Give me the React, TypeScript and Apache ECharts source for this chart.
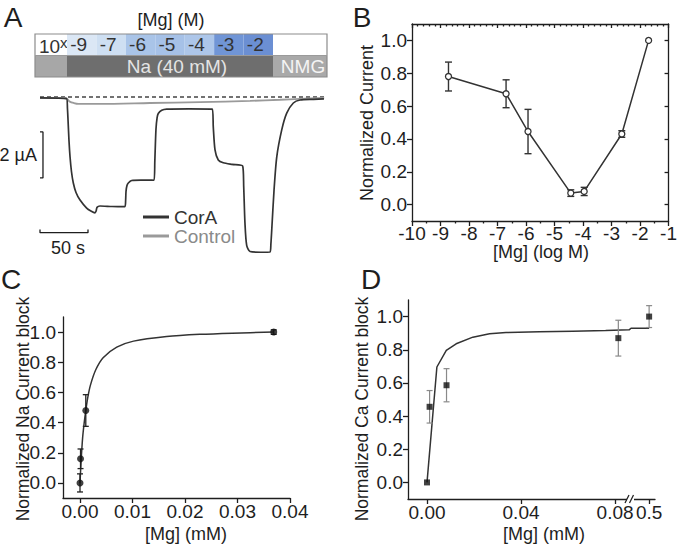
import React, { useEffect, useRef } from 'react';
import * as echarts from 'echarts';

const FONT = '"Liberation Sans", Arial, Helvetica, sans-serif';
const INK = '#1e1e1e';

// ---------- Panel A: solution bar ----------
const MG_EXPONENTS = ['-9', '-7', '-6', '-5', '-4', '-3', '-2'];
const MG_COLORS = ['#dbe7f5', '#cedff2', '#a9c4e8', '#a6c1e7', '#adc6e9', '#7095d6', '#6b8fd3'];
const SOLUTIONS = ['', 'Na (40 mM)', 'NMG'];
const SOLUTION_COLORS = ['#a7a7a7', '#6e6e6e', '#a9a9a9'];

// ---------- Panel A: current traces (time s, current µA) ----------
const CORA_T = [0, 27.8, 28.6, 29.2, 30.2, 31.3, 32.8, 34.7, 37.5, 41.7, 48.6, 53, 57.3, 58.5, 59.4, 62.5, 75, 88.5, 89.2, 89.6, 90.6, 92, 95.5, 105, 118.8, 119.6, 120.8, 122, 123.2, 126.8, 132, 155, 179.5, 180.5, 182.3, 185.7, 190.9, 200, 211.1, 212.2, 213.5, 215.3, 218.8, 230, 239.6, 240.5, 241.4, 243.8, 246.6, 251.8, 257, 263.9, 270.8, 285, 295.8];
const CORA_I = [-0.04, -0.08, -0.5, -1.0, -1.9, -2.61, -3.25, -3.74, -4.15, -4.48, -4.83, -4.96, -5.04, -4.95, -4.8, -4.74, -4.76, -4.77, -4.5, -4.1, -3.85, -3.74, -3.63, -3.61, -3.62, -2.8, -1.4, -0.9, -0.72, -0.58, -0.53, -0.52, -0.53, -1.3, -2.3, -2.74, -2.86, -2.93, -3.0, -3.9, -5.48, -6.45, -6.72, -6.75, -6.74, -6.4, -5.78, -4.04, -2.61, -1.43, -0.7, -0.26, -0.13, -0.1, -0.08];
const CTRL_T = [0, 27, 29, 31, 35, 40, 62.5, 114.6, 166.7, 218.8, 250, 270.8, 296];
const CTRL_I = [-0.04, -0.04, -0.12, -0.2, -0.26, -0.3, -0.3, -0.26, -0.22, -0.17, -0.12, -0.08, -0.04];
const BASELINE_T = [0, 296];
const SCALE_CURRENT = 2; // µA
const SCALE_TIME = 50; // s

// ---------- Panel B ----------
const B_LOGMG = [-8.72, -6.7, -5.93, -4.43, -3.96, -2.64, -1.7];
const B_CURRENT = [0.78, 0.675, 0.445, 0.07, 0.08, 0.43, 1.0];
const B_ERR = [0.088, 0.085, 0.135, 0.02, 0.025, 0.02, 0];
const Y_TICKS = [0, 0.2, 0.4, 0.6, 0.8, 1.0];

// ---------- Panel C ----------
const C_MG = [0, 0.0001, 0.0011, 0.0369];
const C_BLOCK = [0, 0.16, 0.48, 1.0];
const C_ERR = [0.06, 0.065, 0.105, 0.015];
const C_FIT_X = [0, 0.0002, 0.0005, 0.0008, 0.0011, 0.0015, 0.002, 0.003, 0.0044, 0.007, 0.0102, 0.0165, 0.0229, 0.029, 0.0369];
const C_FIT_Y = [0, 0.14, 0.3, 0.4, 0.48, 0.57, 0.65, 0.75, 0.83, 0.9, 0.94, 0.97, 0.985, 0.993, 1.0];
const C_X_TICKS = [0, 0.01, 0.02, 0.03, 0.04];

// ---------- Panel D ----------
const D_MG = [0, 0.0011, 0.0083, 0.0814, 0.5];
const D_BLOCK = [0, 0.456, 0.586, 0.87, 1.0];
const D_ERR = [0, 0.098, 0.1, 0.108, 0.066];
const D_FIT_X = [0, 0.0042, 0.0082, 0.0124, 0.0195, 0.0266, 0.0336, 0.0478, 0.062, 0.076, 0.086, 0.49, 0.5];
const D_FIT_Y = [0, 0.696, 0.796, 0.836, 0.876, 0.896, 0.904, 0.908, 0.912, 0.916, 0.92, 0.93, 0.93];
const D_X_TICKS = [0, 0.04, 0.08, 0.5];
const D_X_LABELS = ['0.00', '0.04', '0.08', '0.5'];

// axis break for panel D (0.0868 .. 0.49 removed)
const BREAK_AT = 0.0868;
const BREAK_FROM = 0.49;
const BREAK_SCALE = 0.77;
const brk = (v: number) => (v >= BREAK_FROM ? BREAK_AT + (v - BREAK_FROM) * BREAK_SCALE : v);

const zip = (a: number[], b: number[]) => a.map((v, i) => [v, b[i]]);

const CELL_MIN = -1.087;
const CELL_MAX = 8.835;

type Cell = { from: number; to: number; row: number; label: string; color: string; kind: string };
const CELLS: Cell[] = [
  { from: CELL_MIN, to: 0, row: 1, label: '10', color: '#ffffff', kind: 'base' },
  ...MG_EXPONENTS.map((e, i) => ({ from: i, to: i + 1, row: 1, label: e, color: MG_COLORS[i], kind: 'exp' })),
  { from: MG_EXPONENTS.length, to: CELL_MAX, row: 1, label: '', color: '#ffffff', kind: 'blank' },
  { from: CELL_MIN, to: 0, row: 0, label: SOLUTIONS[0], color: SOLUTION_COLORS[0], kind: 'sol' },
  { from: 0, to: MG_EXPONENTS.length, row: 0, label: SOLUTIONS[1], color: SOLUTION_COLORS[1], kind: 'sol' },
  { from: MG_EXPONENTS.length, to: CELL_MAX, row: 0, label: SOLUTIONS[2], color: SOLUTION_COLORS[2], kind: 'sol' },
];

const cellRender = (params: any, api: any) => {
  const c = CELLS[params.dataIndex];
  const tl = api.coord([c.from, c.row + 1]);
  const br = api.coord([c.to, c.row]);
  const w = br[0] - tl[0];
  const h = br[1] - tl[1];
  const cy = tl[1] + h / 2;
  const children: any[] = [
    { type: 'rect', shape: { x: tl[0], y: tl[1], width: w, height: h }, style: { fill: c.color } },
  ];
  if (c.kind === 'base') {
    children.push({ type: 'text', style: { text: c.label, x: tl[0] + 4, y: cy + 2, fontSize: 19, fontFamily: FONT, fill: '#333', align: 'left', verticalAlign: 'middle' } });
    children.push({ type: 'text', style: { text: 'x', x: tl[0] + 25, y: cy - 2, fontSize: 15, fontFamily: FONT, fill: '#333', align: 'left', verticalAlign: 'middle' } });
  } else if (c.kind === 'exp') {
    children.push({ type: 'text', style: { text: c.label, x: tl[0] + w / 2 - 3, y: cy, fontSize: 19, fontFamily: FONT, fill: '#333', align: 'center', verticalAlign: 'middle' } });
  } else if (c.kind === 'sol' && c.label) {
    children.push({ type: 'text', style: { text: c.label, x: tl[0] + w / 2 + (c.label === 'NMG' ? 3 : 7), y: cy, fontSize: 19, fontFamily: FONT, fill: c.label === 'NMG' ? '#f4f4f4' : '#e4e4e4', align: 'center', verticalAlign: 'middle' } });
  }
  return { type: 'group', children };
};

const makeErr = (color: string, half: number, width: number) => (params: any, api: any) => {
  const x = api.value(0);
  const y = api.value(1);
  const e = api.value(2);
  if (!e) return { type: 'group', children: [] };
  const t = api.coord([x, y + e]);
  const b = api.coord([x, y - e]);
  const style = { stroke: color, lineWidth: width };
  return {
    type: 'group',
    children: [
      { type: 'line', shape: { x1: t[0], y1: t[1], x2: b[0], y2: b[1] }, style },
      { type: 'line', shape: { x1: t[0] - half, y1: t[1], x2: t[0] + half, y2: t[1] }, style },
      { type: 'line', shape: { x1: b[0] - half, y1: b[1], x2: b[0] + half, y2: b[1] }, style },
    ],
  };
};

const labelStyle = { color: INK, fontSize: 19, fontFamily: FONT };
const lineStyle = { color: INK, width: 1.3 };

function valueAxis(extra: any) {
  return {
    type: 'value',
    axisLine: { show: true, onZero: false, lineStyle },
    axisTick: { show: true, length: 5, lineStyle },
    axisLabel: { ...labelStyle, margin: 4 },
    splitLine: { show: false },
    ...extra,
  };
}

const fmt1 = (v: number) => v.toFixed(1);
const fmt2 = (v: number) => v.toFixed(2);
const D_TICK_POS = D_X_TICKS.map(brk);
const fmtD = (v: number) => {
  const i = D_TICK_POS.findIndex((p) => Math.abs(p - v) < 1e-6);
  return i >= 0 ? D_X_LABELS[i] : '';
};

const text = (t: string, x: number, y: number, size: number, extra: any = {}) => ({
  type: 'text',
  x,
  y,
  rotation: extra.rotation || 0,
  silent: true,
  style: { text: t, x: 0, y: 0, fontSize: size, fontFamily: FONT, fill: extra.fill || INK, align: extra.align || 'center', verticalAlign: 'middle' },
});

function buildOption(): any {
  const scaleTop = -1.52;
  const scaleX = 3.1;
  const hBarY = -5.9;
  return {
    animation: false,
    backgroundColor: '#ffffff',
    grid: [
      { left: 35, top: 34, width: 292, height: 43 },
      { left: 40, top: 85.5, width: 288, height: 184 },
      { left: 412, top: 24, width: 259, height: 197 },
      { left: 63, top: 317, width: 227, height: 181 },
      { left: 408, top: 300, width: 247, height: 199 },
    ],
    legend: {
      data: [
        { name: 'CorA', textStyle: { color: '#333' } },
        { name: 'Control', textStyle: { color: '#8a8a8a' } },
      ],
      orient: 'vertical',
      left: 143,
      top: 207.5,
      itemWidth: 26,
      itemHeight: 3,
      itemGap: 0,
      icon: 'rect',
      padding: 0,
      selectedMode: false,
      textStyle: { fontSize: 19, fontFamily: FONT, lineHeight: 13 },
    },
    xAxis: [
      { gridIndex: 0, type: 'value', min: CELL_MIN, max: CELL_MAX, show: false },
      { gridIndex: 1, type: 'value', min: 0, max: 300, show: false },
      valueAxis({ gridIndex: 2, min: -10, max: -1, interval: 1, axisLabel: { ...labelStyle, margin: 3 }, minorTick: { show: true, splitNumber: 2, length: 2.5, lineStyle } }),
      valueAxis({ gridIndex: 2, position: 'top', min: -10, max: -1, interval: 1, axisLabel: { show: false }, axisTick: { show: true, inside: true, length: 4, lineStyle }, minorTick: { show: true, splitNumber: 5, length: 2.5, lineStyle } }),
      valueAxis({ gridIndex: 3, min: -0.00324, max: 0.04, axisLabel: { ...labelStyle, margin: 4, customValues: C_X_TICKS, formatter: fmt2 }, axisTick: { show: true, length: 5, lineStyle, customValues: C_X_TICKS } }),
      valueAxis({ gridIndex: 4, min: -0.00809, max: 0.097, axisLabel: { ...labelStyle, margin: 4, customValues: D_TICK_POS, formatter: fmtD }, axisTick: { show: true, length: 5, lineStyle, customValues: D_TICK_POS } }),
    ],
    yAxis: [
      { gridIndex: 0, type: 'value', min: 0, max: 2, show: false },
      { gridIndex: 1, type: 'value', min: -7.5, max: 0.5, show: false },
      valueAxis({ gridIndex: 2, min: -0.1, max: 1.1, axisLabel: { ...labelStyle, margin: 5, customValues: Y_TICKS, formatter: fmt1 }, axisTick: { show: true, length: 5, lineStyle, customValues: Y_TICKS } }),
      valueAxis({ gridIndex: 2, position: 'right', min: -0.1, max: 1.1, axisLabel: { show: false }, axisTick: { show: true, inside: true, length: 4, lineStyle, customValues: Y_TICKS } }),
      valueAxis({ gridIndex: 3, min: -0.1, max: 1.1, axisLabel: { ...labelStyle, margin: 7, customValues: Y_TICKS, formatter: fmt1 }, axisTick: { show: true, length: 5, lineStyle, customValues: Y_TICKS } }),
      valueAxis({ gridIndex: 4, min: -0.1, max: 1.1, axisLabel: { ...labelStyle, margin: 5, customValues: Y_TICKS, formatter: fmt1 }, axisTick: { show: true, length: 5, lineStyle, customValues: Y_TICKS } }),
    ],
    series: [
      // colour bar
      { type: 'custom', xAxisIndex: 0, yAxisIndex: 0, silent: true, renderItem: cellRender, data: CELLS.map((c) => [c.from, c.to, c.row]) },
      // traces
      { type: 'line', name: 'baseline', xAxisIndex: 1, yAxisIndex: 1, data: BASELINE_T.map((t) => [t, 0]), showSymbol: false, silent: true, lineStyle: { color: '#444', width: 1.3, type: [4, 3] }, z: 1 },
      { type: 'line', name: 'Control', xAxisIndex: 1, yAxisIndex: 1, data: zip(CTRL_T, CTRL_I), showSymbol: false, smooth: 0.3, lineStyle: { color: '#9a9a9a', width: 1.8 }, itemStyle: { color: '#9a9a9a' }, z: 2 },
      { type: 'line', name: 'CorA', xAxisIndex: 1, yAxisIndex: 1, data: zip(CORA_T, CORA_I), showSymbol: false, smooth: 0.25, lineStyle: { color: '#333', width: 1.7 }, itemStyle: { color: '#333' }, z: 3 },
      { type: 'line', name: 'scaleI', xAxisIndex: 1, yAxisIndex: 1, data: [[0, scaleTop], [scaleX, scaleTop], [scaleX, scaleTop - SCALE_CURRENT], [0, scaleTop - SCALE_CURRENT]], showSymbol: false, silent: true, lineStyle: { color: INK, width: 1.3 } },
      { type: 'line', name: 'scaleT', xAxisIndex: 1, yAxisIndex: 1, data: [[0, hBarY + 0.14], [0, hBarY], [SCALE_TIME, hBarY], [SCALE_TIME, hBarY + 0.14]], showSymbol: false, silent: true, lineStyle: { color: INK, width: 1.3 } },
      // panel B
      { type: 'custom', xAxisIndex: 2, yAxisIndex: 2, renderItem: makeErr('#333', 3.5, 1.4), data: B_LOGMG.map((x, i) => [x, B_CURRENT[i], B_ERR[i]]), z: 2 },
      { type: 'line', xAxisIndex: 2, yAxisIndex: 2, data: zip(B_LOGMG, B_CURRENT), symbol: 'circle', symbolSize: 6, itemStyle: { color: '#ffffff', borderColor: '#333', borderWidth: 1.3 }, lineStyle: { color: '#333', width: 1.5 }, z: 3 },
      // panel C
      { type: 'line', xAxisIndex: 4, yAxisIndex: 4, data: zip(C_FIT_X, C_FIT_Y), showSymbol: false, smooth: 0.3, lineStyle: { color: '#333', width: 1.5 }, z: 2 },
      { type: 'custom', xAxisIndex: 4, yAxisIndex: 4, renderItem: makeErr('#222', 3, 1.3), data: C_MG.map((x, i) => [x, C_BLOCK[i], C_ERR[i]]), z: 3 },
      { type: 'scatter', xAxisIndex: 4, yAxisIndex: 4, data: zip(C_MG, C_BLOCK), symbol: 'circle', symbolSize: 7, itemStyle: { color: '#111' }, z: 4 },
      // panel D
      { type: 'line', xAxisIndex: 5, yAxisIndex: 5, data: D_FIT_X.map((x, i) => [brk(x), D_FIT_Y[i]]), showSymbol: false, smooth: false, lineStyle: { color: '#333', width: 1.5 }, z: 2 },
      { type: 'custom', xAxisIndex: 5, yAxisIndex: 5, renderItem: makeErr('#8a8a8a', 3, 1.2), data: D_MG.map((x, i) => [brk(x), D_BLOCK[i], D_ERR[i]]), z: 3 },
      { type: 'scatter', xAxisIndex: 5, yAxisIndex: 5, data: D_MG.map((x, i) => [brk(x), D_BLOCK[i]]), symbol: 'rect', symbolSize: 6, itemStyle: { color: '#111' }, z: 4 },
    ],
    graphic: [
      { type: 'rect', silent: true, z: 10, shape: { x: 35, y: 34, width: 292, height: 43 }, style: { fill: 'none', stroke: '#8c8c8c', lineWidth: 1.2 } },
      { type: 'line', silent: true, z: 10, shape: { x1: 35, y1: 55.5, x2: 327, y2: 55.5 }, style: { stroke: '#9a9a9a', lineWidth: 1 } },
      text('A', 13, 17, 28),
      text('B', 362, 17, 28),
      text('C', 11, 279, 28),
      text('D', 371, 279, 28),
      text('[Mg] (M)', 171, 20, 18),
      text('2 µA', 37, 155, 18, { align: 'right' }),
      text('50 s', 68, 248, 18),
      text('Normalized Current', 367, 123, 18, { rotation: Math.PI / 2 }),
      text('[Mg] (log M)', 541, 252, 18),
      text('Normalized Na Current block', 23, 409, 17.5, { rotation: Math.PI / 2 }),
      text('[Mg] (mM)', 186, 534, 18),
      text('Normalized Ca Current block', 362, 409, 17.5, { rotation: Math.PI / 2 }),
      text('[Mg] (mM)', 544, 534, 18),
      { type: 'rect', silent: true, z: 10, shape: { x: 627, y: 496, width: 7, height: 6 }, style: { fill: '#ffffff' } },
      { type: 'line', silent: true, z: 11, shape: { x1: 625, y1: 503, x2: 629, y2: 495 }, style: { stroke: INK, lineWidth: 1.2 } },
      { type: 'line', silent: true, z: 11, shape: { x1: 629.5, y1: 503, x2: 633.5, y2: 495 }, style: { stroke: INK, lineWidth: 1.2 } },
    ],
  };
}

export default function App() {
  const ref = useRef<HTMLDivElement>(null);
  useEffect(() => {
    document.body.style.margin = '0';
    const chart = echarts.init(ref.current as HTMLDivElement, null, { renderer: 'svg' });
    chart.setOption(buildOption());
    return () => chart.dispose();
  }, []);
  return <div ref={ref} style={{ width: 680, height: 545 }} />;
}
